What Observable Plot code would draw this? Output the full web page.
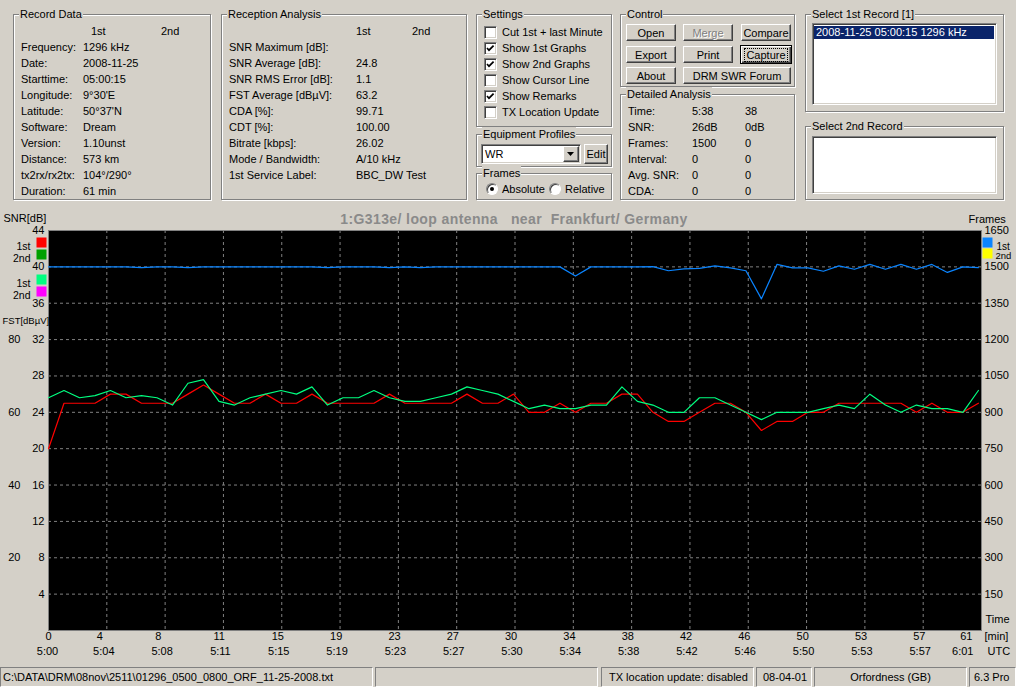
<!DOCTYPE html>
<html><head><meta charset="utf-8">
<script src="https://cdn.jsdelivr.net/npm/d3@7"></script>
<script src="https://cdn.jsdelivr.net/npm/@observablehq/plot@0.6"></script>
<style>
html,body{margin:0;padding:0;}
body{width:1016px;height:687px;overflow:hidden;background:#d4d0c8;font:11px "Liberation Sans",Arial,sans-serif;color:#000;position:relative;}
#ui{position:absolute;left:0;top:0;width:1016px;height:687px;}
.a{position:absolute;white-space:pre;line-height:14px;}
.gb{position:absolute;box-sizing:border-box;border:1px solid #808080;box-shadow:inset 1px 1px 0 #fff,1px 1px 0 #fff;}
.cb{position:absolute;width:13px;height:13px;box-sizing:border-box;background:#fff;border:1px solid;border-color:#808080 #fff #fff #808080;box-shadow:inset 1px 1px 0 #404040,inset -1px -1px 0 #d4d0c8;}
.rb{position:absolute;width:12px;height:12px;box-sizing:border-box;border-radius:50%;background:#fff;border:1px solid;border-color:#808080 #fff #fff #808080;box-shadow:inset 1px 1px 0 #404040;}
.btn{position:absolute;box-sizing:border-box;background:#d4d0c8;border:1px solid;border-color:#fff #404040 #404040 #fff;box-shadow:inset -1px -1px 0 #808080;display:flex;align-items:center;justify-content:center;white-space:pre;}
.sunk{position:absolute;box-sizing:border-box;background:#fff;border:1px solid;border-color:#808080 #fff #fff #808080;box-shadow:inset 1px 1px 0 #404040,inset -1px -1px 0 #d4d0c8;}
.sb{position:absolute;box-sizing:border-box;top:667px;height:20px;border:1px solid;border-color:#808080 #fff #fff #808080;line-height:18px;padding-left:2px;white-space:pre;overflow:hidden;}
#chart{position:absolute;left:0;top:200px;}
svg text{white-space:pre;}
</style></head>
<body>
<div id="ui"></div>
<div id="chart"></div>
<script>
// ---------------- data ----------------
const snr1 = [20,25,25,25,26,26,25,25,25,26,27, 26,25,25,26,25,25,26,25,25,25, 25,26,25,25,25,25,26,25,25,26, 24,24,25,24,25,25,26,26,24,23, 23,24,25,25,24,22,23,23,24,24, 25,25,25,25,25,24,25,24,24,25];
const fst1 = [64,66,64,64.6,66,64,64.6,64,62,68,69, 63,62,64,65,66,65,67,62,64,64, 66,64,63,63,64,65,67,66,65,63, 61,62,61,61,62,62,67,63,62,60, 60,64,64,62,60,58,60,60,60,61, 62,61,65,62,60,62,61,61,60,66];
const frames1 = [1500,1500,1500,1500,1500,1500,1497,1500,1500,1497, 1500,1500,1500,1500,1500,1500,1500,1500,1497,1500, 1500,1500,1497,1500,1497,1500,1500,1500,1500,1500, 1500,1500,1500,1500,1462,1500,1500,1500,1500,1501, 1484,1492,1494,1504,1496,1484,1368,1510,1496,1496, 1482,1504,1490,1510,1490,1510,1490,1510,1477,1500, 1497];
const duration = 60.2;
const minuteLabels = ["0","4","8","11","15","19","23","27","30","34","38","42","46","50","53","57","61"];
const utcLabels = ["5:00","5:04","5:08","5:11","5:15","5:19","5:23","5:27","5:30","5:34","5:38","5:42","5:46","5:50","5:53","5:57","6:01"];
const snrTicks = [4,8,12,16,20,24,28,32,36,40,44];
const fstTicks = [20,40,60,80];
const frameTicks = [150,300,450,600,750,900,1050,1200,1350,1500,1650];
const chartTitle = "1:G313e/ loop antenna   near  Frankfurt/ Germany";

const recordLabels = ["Frequency:","Date:","Starttime:","Longitude:","Latitude:","Software:","Version:","Distance:","tx2rx/rx2tx:","Duration:"];
const recordValues = ["1296 kHz","2008-11-25","05:00:15","9°30'E","50°37'N","Dream","1.10unst","573 km","104°/290°","61 min"];
const recepLabels = ["SNR Maximum [dB]:","SNR Average [dB]:","SNR RMS Error [dB]:","FST Average [dBµV]:","CDA [%]:","CDT [%]:","Bitrate [kbps]:","Mode / Bandwidth:","1st Service Label:"];
const recepValues = ["","24.8","1.1","63.2","99.71","100.00","26.02","A/10 kHz","BBC_DW Test"];
const settingsLabels = ["Cut 1st + last Minute","Show 1st Graphs","Show 2nd Graphs","Show Cursor Line","Show Remarks","TX Location Update"];
const settingsChecked = [false,true,true,false,true,false];
const detailLabels = ["Time:","SNR:","Frames:","Interval:","Avg. SNR:","CDA:"];
const detail1 = ["5:38","26dB","1500","0","0","0"];
const detail2 = ["38","0dB","0","0","0","0"];

// ---------------- UI panels ----------------
const ui = document.getElementById("ui");
function el(cls, st, text){const e=document.createElement("div"); if(cls) e.className=cls; Object.assign(e.style, st); if(text!=null) e.textContent=text; ui.appendChild(e); return e;}
const px = v => v + "px";
function txt(x, cy, s, st={}){return el("a", Object.assign({left:px(x), top:px(cy-7)}, st), s);}
function box(x1,y1,x2,y2,title){
  el("gb",{left:px(x1),top:px(y1),width:px(x2-x1),height:px(y2-y1)});
  txt(x1+6, y1, title, {background:"#d4d0c8", padding:"0 1px"});
}
function btn(x1,y1,x2,y2,label,st={}){return el("btn",Object.assign({left:px(x1),top:px(y1),width:px(x2-x1),height:px(y2-y1)},st),label);}

// Record Data
box(13,14,211,200,"Record Data");
txt(91,31,"1st"); txt(161,31,"2nd");
recordLabels.forEach((l,i)=>{txt(21,47+16*i,l); txt(83,47+16*i,recordValues[i]);});
// Reception Analysis
box(221,14,467,200,"Reception Analysis");
txt(356,31,"1st"); txt(412,31,"2nd");
recepLabels.forEach((l,i)=>{txt(229,47+16*i,l); txt(356,47+16*i,recepValues[i]);});
// Settings
box(476,14,612,127,"Settings");
settingsLabels.forEach((l,i)=>{
  const c = el("cb",{left:"484px",top:px(32+16*i-6)});
  if(settingsChecked[i]) c.innerHTML='<svg width="11" height="11" style="position:absolute;left:0;top:0"><path d="M2 5 L4 7.2 L8.6 2.6" stroke="#000" stroke-width="1.7" fill="none"/></svg>';
  txt(502,32+16*i,l);
});
// Equipment Profiles
box(476,134,612,167,"Equipment Profiles");
el("sunk",{left:"481px",top:"144px",width:"100px",height:"20px"});
txt(485,154,"WR");
const dd = btn(563,146,579,162,"");
dd.innerHTML='<svg width="8" height="5"><path d="M0 0 H7 L3.5 4 Z" fill="#000"/></svg>';
btn(584,144,608,164,"Edit");
// Frames
box(476,173,612,200,"Frames");
const r1 = el("rb",{left:"486px",top:"183px"});
r1.innerHTML='<div style="position:absolute;left:3px;top:3px;width:4px;height:4px;border-radius:50%;background:#000"></div>';
txt(502,189,"Absolute");
el("rb",{left:"549px",top:"183px"});
txt(565,189,"Relative");
// Control
box(620,14,795,87,"Control");
btn(626,24,676,41,"Open");
btn(683,24,733,41,"Merge",{color:"#808080",textShadow:"1px 1px 0 #fff"});
btn(741,24,791,41,"Compare");
btn(626,46,676,63,"Export");
btn(683,46,733,63,"Print");
const cap = btn(740,45,792,64,"",{border:"1px solid #000",boxShadow:"inset 1px 1px 0 #fff, inset -1px -1px 0 #404040, inset -2px -2px 0 #808080"});
cap.innerHTML='<span style="outline:1px dotted #000;outline-offset:0;padding:0 1px;line-height:12px">Capture</span>';
btn(626,67,676,84,"About");
btn(683,67,791,84,"DRM SWR Forum");
// Detailed Analysis
box(620,94,795,200,"Detailed Analysis");
detailLabels.forEach((l,i)=>{txt(628,111+16*i,l); txt(692,111+16*i,detail1[i]); txt(745,111+16*i,detail2[i]);});
// Select records
box(805,14,1004,112,"Select 1st Record [1]");
el("sunk",{left:"812px",top:"23px",width:"185px",height:"82px"});
el("a",{left:"814px",top:"26px",width:"180px",height:"13px",lineHeight:"13px",background:"#0a246a",color:"#fff",paddingLeft:"2px",boxSizing:"border-box"},"2008-11-25 05:00:15 1296 kHz");
box(805,126,1004,200,"Select 2nd Record");
el("sunk",{left:"812px",top:"136px",width:"185px",height:"58px"});
// Status bar
el("sb",{left:"0px",width:"373px"},"C:\\DATA\\DRM\\08nov\\2511\\01296_0500_0800_ORF_11-25-2008.txt");
el("sb",{left:"375px",width:"223px"},"");
el("sb",{left:"601px",width:"153px",paddingLeft:"7px"},"TX location update: disabled");
el("sb",{left:"756px",width:"56px",paddingLeft:"6px"},"08-04-01");
el("sb",{left:"814px",width:"153px",textAlign:"center",paddingLeft:"0"},"Orfordness (GB)");
el("sb",{left:"969px",width:"47px",paddingLeft:"4px"},"6.3 Pro");

// ---------------- chart ----------------
const rows = snr1.map((v,i)=>({t:i, snr:v, fst:fst1[i], frames:frames1[i]}));
const ticks = minuteLabels.map((m,i)=>({v:i*duration/16, m, u:utcLabels[i]}));
const inner = ticks.slice(1,16), first = ticks.slice(0,1), last = ticks.slice(16);
const grid = {stroke:"#808080", strokeOpacity:1, strokeDasharray:"3,3", strokeWidth:1};
const sq = (anchor, fill, dx, dy) => Plot.dot([0], {frameAnchor:anchor, dx, dy, symbol:"square", r:5.642, fill, stroke:null});
const lbl = (s, o) => Plot.text([s], Object.assign({text:d=>d}, o));

const chart = Plot.plot({
  width:1016, height:467, marginTop:30, marginBottom:37, marginLeft:48, marginRight:35,
  x:{domain:[0,duration], axis:null},
  y:{domain:[0,44], axis:null},
  style:{background:"transparent", fontFamily:'"Liberation Sans", Arial, sans-serif', fontSize:"11px", color:"#000", overflow:"visible"},
  marks:[
    Plot.frame({fill:"#000", stroke:null}),
    Plot.ruleY(snrTicks, {y:d=>d, ...grid}),
    Plot.ruleX(inner, {x:"v", ...grid}),
    Plot.frame({stroke:"#808080", fill:null}),
    Plot.line(rows, {x:"t", y:d=>d.frames/37.5, stroke:"#0a84ff", strokeWidth:1.2}),
    Plot.line(rows, {x:"t", y:"snr", stroke:"#ff0000", strokeWidth:1.2}),
    Plot.line(rows, {x:"t", y:d=>d.fst/2.5, stroke:"#00ff80", strokeWidth:1.2}),
    // left SNR axis
    Plot.text(snrTicks, {y:d=>d, text:d=>String(d), frameAnchor:"left", textAnchor:"end", dx:-4}),
    // FST axis
    Plot.text(fstTicks, {y:d=>d/2.5, text:d=>String(d), frameAnchor:"left", textAnchor:"end", dx:-28}),
    // right frames axis
    Plot.text(frameTicks, {y:d=>d/37.5, text:d=>String(d), frameAnchor:"right", textAnchor:"start", dx:3}),
    // bottom minute / UTC labels
    Plot.text(first, {x:"v", text:"m", frameAnchor:"bottom", dy:9}),
    Plot.text(inner, {x:"v", text:"m", frameAnchor:"bottom", textAnchor:"start", dx:-10, dy:9}),
    Plot.text(last, {x:"v", text:"m", frameAnchor:"bottom", textAnchor:"end", dx:-9, dy:9}),
    Plot.text(first, {x:"v", text:"u", frameAnchor:"bottom", dx:-1, dy:24}),
    Plot.text(inner, {x:"v", text:"u", frameAnchor:"bottom", dx:-3, dy:24}),
    Plot.text(last, {x:"v", text:"u", frameAnchor:"bottom", textAnchor:"end", dx:-8, dy:24}),
    // captions
    lbl(chartTitle, {frameAnchor:"top", dx:-1, dy:-16, fontWeight:"bold", fontSize:14, fill:"#8a8a8a"}),
    lbl("SNR[dB]", {frameAnchor:"top-left", textAnchor:"start", dx:-45, dy:-16}),
    lbl("Frames", {frameAnchor:"top-right", textAnchor:"start", dx:-13, dy:-15}),
    lbl("FST[dBµV]", {frameAnchor:"top-left", textAnchor:"start", dx:-46, dy:87, fontSize:9.5}),
    lbl("Time", {frameAnchor:"bottom-right", textAnchor:"start", dx:4, dy:-8}),
    lbl("[min]", {frameAnchor:"bottom-right", textAnchor:"start", dx:3, dy:9}),
    lbl("UTC", {frameAnchor:"bottom-right", textAnchor:"start", dx:6, dy:24}),
    // legends
    lbl("1st", {frameAnchor:"top-left", textAnchor:"end", dx:-18, dy:12, fontSize:10.5}),
    lbl("2nd", {frameAnchor:"top-left", textAnchor:"end", dx:-18, dy:24, fontSize:10.5}),
    lbl("1st", {frameAnchor:"top-left", textAnchor:"end", dx:-18, dy:49, fontSize:10.5}),
    lbl("2nd", {frameAnchor:"top-left", textAnchor:"end", dx:-18, dy:61, fontSize:10.5}),
    sq("top-left", "#ff0000", -7, 12), sq("top-left", "#00a000", -7, 24),
    sq("top-left", "#00ff80", -7, 49), sq("top-left", "#ff00ff", -7, 61),
    sq("top-right", "#0a84ff", 6, 12), sq("top-right", "#ffff00", 6, 23),
    lbl("1st", {frameAnchor:"top-right", textAnchor:"start", dx:15, dy:12, fontSize:10}),
    lbl("2nd", {frameAnchor:"top-right", textAnchor:"start", dx:14, dy:22, fontSize:9.5})
  ]
});
document.getElementById("chart").appendChild(chart);
// widen the title letter spacing slightly to match the original's bold bitmap font
chart.querySelectorAll("text").forEach(t => { if (t.textContent === chartTitle) t.setAttribute("letter-spacing", "0.4"); });
</script>
</body></html>
